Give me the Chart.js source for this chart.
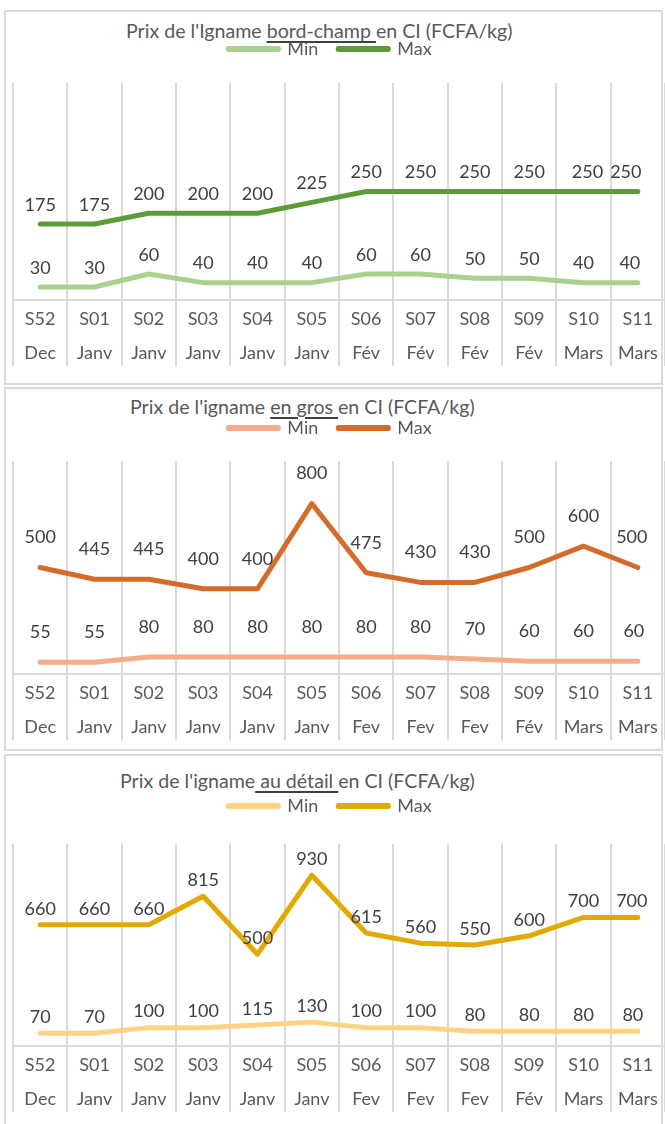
<!DOCTYPE html>
<html>
<head>
<meta charset="utf-8">
<script src="https://cdn.jsdelivr.net/npm/chart.js@4.4.1/dist/chart.umd.min.js"></script>
<style>
  body { margin: 0; background: #fff; width: 665px; height: 1124px; overflow: hidden; position: relative; font-family: Lato, sans-serif; }
  .panel { position: absolute; left: 4px; width: 659px; border: 2px solid #d9d9d9; box-sizing: border-box; }
  .title { position: absolute; font-size: 19.6px; color: #595959; white-space: pre; line-height: 22px; }
  .title u { text-decoration-thickness: 1.5px; text-underline-offset: 3px; text-decoration-color: #404040; }
  canvas { position: absolute; left: 0; }
</style>
</head>
<body>
<div class="panel" style="top:10px;height:375px"></div>
<div class="panel" style="top:387px;height:364px"></div>
<div class="panel" style="top:754px;height:380px"></div>

<div class="title" style="left:126px;top:20px">Prix de l'Igname <u>bord-champ </u>en CI (FCFA/kg)</div>
<div class="title" style="left:130px;top:396px">Prix de l'igname <u>en gros </u>en CI (FCFA/kg)</div>
<div class="title" style="left:120px;top:770px">Prix de l'igname<u> au détail </u>en CI (FCFA/kg)</div>

<canvas id="c1" width="665" height="374" style="top:10px"></canvas>
<canvas id="c2" width="665" height="363" style="top:387px"></canvas>
<canvas id="c3" width="665" height="370" style="top:754px"></canvas>

<script>
const weeks = ["S52", "S01", "S02", "S03", "S04", "S05", "S06", "S07", "S08", "S09", "S10", "S11"];
const monthsChamp = ["Dec", "Janv", "Janv", "Janv", "Janv", "Janv", "Fév", "Fév", "Fév", "Fév", "Mars", "Mars"];
const monthsOther = ["Dec", "Janv", "Janv", "Janv", "Janv", "Janv", "Fev", "Fev", "Fev", "Fév", "Mars", "Mars"];

const champMin = [30, 30, 60, 40, 40, 40, 60, 60, 50, 50, 40, 40];
const champMax = [175, 175, 200, 200, 200, 225, 250, 250, 250, 250, 250, 250];
const grosMin = [55, 55, 80, 80, 80, 80, 80, 80, 70, 60, 60, 60];
const grosMax = [500, 445, 445, 400, 400, 800, 475, 430, 430, 500, 600, 500];
const detailMin = [70, 70, 100, 100, 115, 130, 100, 100, 80, 80, 80, 80];
const detailMax = [660, 660, 660, 815, 500, 930, 615, 560, 550, 600, 700, 700];

// draws the value above each point (no datalabels plugin offline)
const valueLabels = {
  id: "valueLabels",
  afterDatasetsDraw(chart, args, opts) {
    const ctx = chart.ctx;
    ctx.save();
    ctx.font = "18px Lato";
    ctx.fillStyle = "#404040";
    ctx.textAlign = "center";
    ctx.textBaseline = "middle";
    chart.data.datasets.forEach((ds, i) => {
      chart.getDatasetMeta(i).data.forEach((pt, j) => {
        const dx = (ds.nudge && ds.nudge[j]) || 0;
        ctx.fillText(ds.data[j], pt.x + dx, pt.y - opts.offset);
      });
    });
    ctx.restore();
  },
};

// fixes the legend block height so the plot starts where it should,
// and nudges the centred legend a bit to the left like the original
const legendSpace = {
  id: "legendSpace",
  beforeUpdate(chart, args, opts) {
    const legend = chart.legend;
    if (!legend || legend._patched) return;
    const fit = legend.fit;
    legend.fit = function () {
      fit.call(this);
      this.height = opts.height;
    };
    legend._patched = true;
  },
  afterLayout(chart, args, opts) {
    chart.legend.right -= opts.shift;
  },
};

function makeChart(id, months, minData, maxData, colors, cfg) {
  const line = (label, data, color, nudge) => ({
    label: label,
    data: data,
    borderColor: color,
    backgroundColor: color,
    borderWidth: 5,
    borderCapStyle: "round",
    borderJoinStyle: "round",
    pointRadius: 0,
    tension: 0,
    nudge: nudge,
  });

  return new Chart(document.getElementById(id), {
    type: "line",
    data: {
      labels: weeks.map((w, i) => [w, months[i]]),
      datasets: [
        line("Min", minData, colors[0], cfg.nudgeMin),
        line("Max", maxData, colors[1], cfg.nudgeMax),
      ],
    },
    options: {
      responsive: false,
      animation: false,
      layout: { padding: { left: 13, top: cfg.legendTop, right: 0, bottom: 0 } },
      plugins: {
        legend: {
          labels: {
            boxWidth: 50,
            boxHeight: 1,
            padding: 20,
            color: "#595959",
            font: { family: "Lato", size: 18 },
          },
        },
        tooltip: { enabled: false },
        legendSpace: { height: cfg.legendHeight, shift: 18 },
        valueLabels: { offset: cfg.labelOffset },
      },
      scales: {
        x: {
          offset: true,
          grid: { offset: true, color: "#d9d9d9", lineWidth: 2, tickLength: 66 },
          border: { color: "#d9d9d9", width: 2 },
          ticks: {
            autoSkip: false,
            maxRotation: 0,
            minRotation: 0,
            padding: -64,
            color: "#595959",
            font: { family: "Lato", size: 18, lineHeight: 1.9 },
          },
          afterFit: (s) => { s.height = cfg.axisHeight; },
        },
        y: { display: false, min: 0, max: cfg.yMax },
      },
    },
    plugins: [legendSpace, valueLabels],
  });
}

makeChart("c1", monthsChamp, champMin, champMax, ["#a9d08e", "#5e9c3a"], {
  legendTop: 10, legendHeight: 63, axisHeight: 84, yMax: 500, labelOffset: 19,
  nudgeMax: { 10: 4, 11: -12 }, nudgeMin: { 11: -8 },
});
makeChart("c2", monthsOther, grosMin, grosMax, ["#f4ac8a", "#d46b2a"], {
  legendTop: 12, legendHeight: 62, axisHeight: 76, yMax: 1000, labelOffset: 30,
  nudgeMax: { 11: -6 }, nudgeMin: { 11: -4 },
});
makeChart("c3", monthsOther, detailMin, detailMax, ["#ffd383", "#e2aa00"], {
  legendTop: 23, legendHeight: 67, axisHeight: 78, yMax: 1100, labelOffset: 16,
  nudgeMax: { 11: -6 }, nudgeMin: { 11: -5 },
});
</script>
</body>
</html>
